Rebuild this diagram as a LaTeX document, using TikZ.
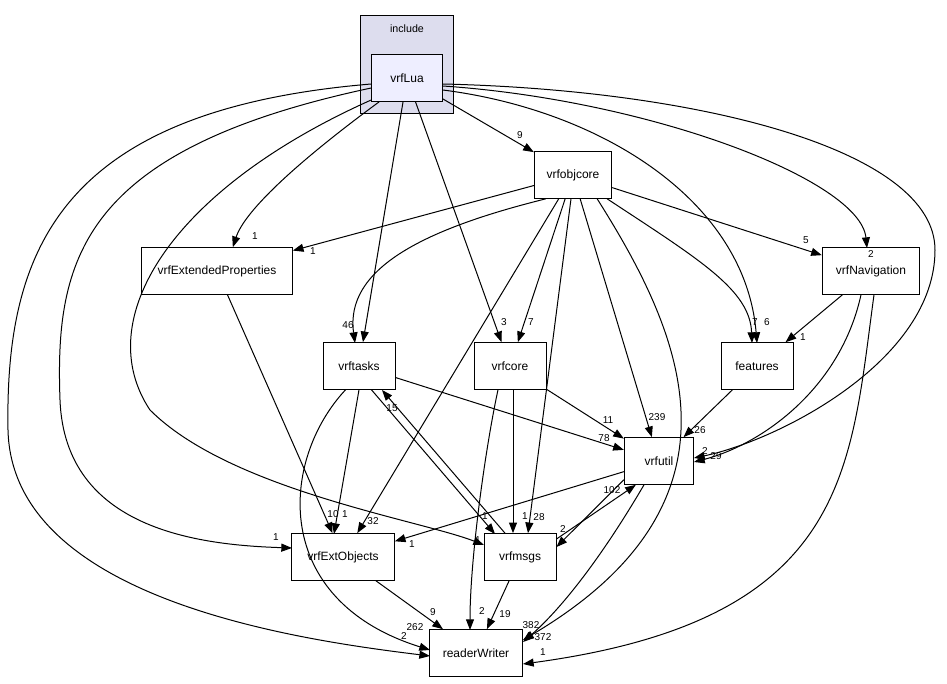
\documentclass[tikz,border=0pt]{standalone}
\usepackage{fontspec}
\setmainfont{Liberation Sans}
\usetikzlibrary{arrows.meta,calc}
\tikzset{every picture/.style={line width=0.75pt}}
\tikzset{
  dir/.style={draw,fill=white,minimum width=#1,minimum height=35pt,inner sep=0pt,font=\fontsize{9}{10}\selectfont},
  dir/.default=54pt,
  dep/.style={-{Triangle[length=8pt,width=6pt]}},
  lbl/.style={inner sep=0pt,font=\fontsize{7.5}{8}\selectfont}
}
\begin{document}
\begin{tikzpicture}[x=0.75pt,y=0.75pt,yscale=-1,xscale=1]
\useasboundingbox (0,0) rectangle (947,684);

%include folder
\draw [fill={rgb, 255:red, 221; green, 221; blue, 238}] (360,16) rectangle (453,114);
\node [lbl,font=\fontsize{8}{9}\selectfont] (inc) at (407,29) {include};

% Directory nodes
\node [dir=53pt,fill={rgb, 255:red, 238; green, 238; blue, 255}] (lua) at (407,78) {vrfLua};
\node [dir=58pt] (objcore) at (573,175) {vrfobjcore};
\node [dir=113pt] (extprop) at (217,271) {vrfExtendedProperties};
\node [dir=73pt] (nav) at (871,271) {vrfNavigation};
\node [dir] (tasks) at (359,366) {vrftasks};
\node [dir] (core) at (510,366) {vrfcore};
\node [dir] (feat) at (757,366) {features};
\node [dir=52pt] (util) at (659,461) {vrfutil};
\node [dir=77pt] (extobj) at (343,557) {vrfExtObjects};
\node [dir] (msgs) at (520,557) {vrfmsgs};
\node [dir=70pt] (rw) at (476,653) {readerWriter};

% Dependencies of vrfLua
\draw [dep] (lua) -- (objcore);
\draw [dep] ($(lua.south west)+(8,0)$) .. controls (300,160) and (245,210) .. ($(extprop.north east)+(-60,0)$);
\draw [dep] (lua) -- (tasks);
\draw [dep] (lua) -- (core);
\draw [dep] ($(lua.east)+(0,12)$) .. controls (600,110) and (745,200) .. (757,343);
\draw [dep] ($(lua.east)+(0,8)$) .. controls (650,100) and (860,180) .. (867,248);
\draw [dep] ($(lua.east)+(0,6)$) .. controls (700,90) and (935,150) .. (935,250) .. controls (935,360) and (780,440) .. (694,458);
\draw [dep] ($(lua.west)+(0,22)$) .. controls (170,190) and (90,320) .. (150,410) .. controls (230,490) and (420,520) .. (484,545);
\draw [dep] ($(lua.west)+(0,10)$) .. controls (80,150) and (55,260) .. (60,400) .. controls (65,530) and (200,545) .. (292,548);
\draw [dep] ($(lua.west)+(0,6)$) .. controls (60,110) and (5,250) .. (8,430) .. controls (12,600) and (300,640) .. (430,656);

% Dependencies of vrfobjcore
\draw [dep] (objcore) -- (extprop);
\draw [dep] ($(objcore.south west)+(12,0)$) .. controls (420,230) and (345,270) .. (355,343);
\draw [dep] (objcore) -- (core);
\draw [dep] (objcore) -- (nav);
\draw [dep] ($(objcore.south east)+(-5,0)$) .. controls (700,260) and (750,290) .. (752,343);
\draw [dep] (objcore) -- (util);
\draw [dep] (objcore) -- (extobj);
\draw [dep] ($(objcore.south)+(-2,0)$) -- ($(msgs.north)+(8,0)$);
\draw [dep] ($(objcore.south east)+(-15,0)$) .. controls (680,330) and (760,500) .. (523,640);

% Remaining dependencies
\draw [dep] (extprop) -- (extobj);
\draw [dep] (tasks.south) -- (334,534);
\draw [dep] (tasks) -- (util);
\draw [dep] ($(tasks.south east)+(-24,0)$) -- (495,534);
\draw [dep] ($(msgs.north)+(-15,0)$) -- (382,390);
\draw [dep] ($(tasks.south east)+(-50,0)$) .. controls (280,460) and (270,600) .. (430,650);
\draw [dep] (core) -- (util);
\draw [dep] ($(core.south)+(3,0)$) -- ($(msgs.north)+(-7,0)$);
\draw [dep] ($(core.south)+(-12,0)$) .. controls (485,450) and (470,560) .. (470,630);
\draw [dep] (feat) -- (util);
\draw [dep] (nav) -- (feat);
\draw [dep] ($(nav.south)+(-10,0)$) .. controls (840,390) and (760,445) .. (694,462);
\draw [dep] ($(nav.south)+(3,0)$) .. controls (850,470) and (850,620) .. (523,664);
\draw [dep] (util) -- (extobj);
\draw [dep] ($(util.south west)+(0,-5)$) -- ($(msgs.east)+(0,-10)$);
\draw [dep] ($(msgs.east)+(0,-18)$) -- ($(util.south west)+(12,0)$);
\draw [dep] ($(util.south)+(-15,0)$) .. controls (600,560) and (560,610) .. (523,642);
\draw [dep] (extobj) -- (rw);
\draw [dep] (msgs) -- (rw);

% Labels
\node [lbl] (l1) at (520,135) {9};
\node [lbl] (l2) at (255,236) {1};
\node [lbl] (l3) at (348,325) {46};
\node [lbl] (l4) at (504,322) {3};
\node [lbl] (l5) at (767,322) {6};
\node [lbl] (l6) at (871,254) {2};
\node [lbl] (l7) at (716,456) {29};
\node [lbl] (l8) at (478,540) {1};
\node [lbl] (l9) at (276,537) {1};
\node [lbl] (l10) at (415,627) {262};
\node [lbl] (l11) at (313,251) {1};
\node [lbl] (l12) at (531,322) {7};
\node [lbl] (l13) at (806,240) {5};
\node [lbl] (l14) at (755,322) {7};
\node [lbl] (l15) at (657,417) {239};
\node [lbl] (l16) at (373,521) {32};
\node [lbl] (l17) at (539,517) {28};
\node [lbl] (l18) at (531,625) {382};
\node [lbl] (l19) at (333,514) {10};
\node [lbl] (l20) at (345,514) {1};
\node [lbl] (l21) at (604,438) {78};
\node [lbl] (l22) at (485,516) {1};
\node [lbl] (l23) at (392,408) {15};
\node [lbl] (l24) at (608,420) {11};
\node [lbl] (l25) at (525,516) {1};
\node [lbl] (l26) at (482,611) {2};
\node [lbl] (l27) at (700,430) {26};
\node [lbl] (l28) at (803,337) {1};
\node [lbl] (l29) at (705,451) {2};
\node [lbl] (l30) at (543,652) {1};
\node [lbl] (l31) at (412,544) {1};
\node [lbl] (l32) at (563,529) {2};
\node [lbl] (l33) at (612,490) {102};
\node [lbl] (l34) at (543,637) {372};
\node [lbl] (l35) at (433,612) {9};
\node [lbl] (l36) at (505,614) {19};
\node [lbl] (l37) at (404,636) {2};
\end{tikzpicture}
\end{document}
